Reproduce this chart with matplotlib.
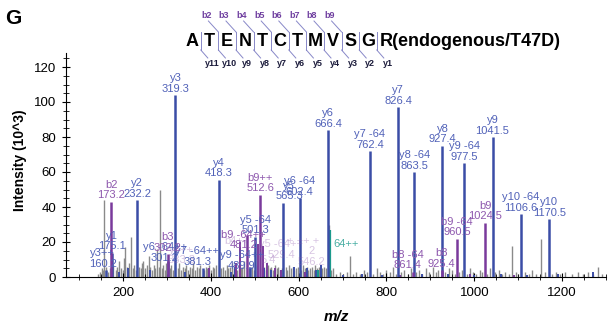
import matplotlib.pyplot as plt
from matplotlib.lines import Line2D
from matplotlib.ticker import MultipleLocator

plt.rcParams['font.family'] = ['Liberation Sans', 'DejaVu Sans']

# y-type fragment ions: m/z, intensity (10^3), name
y_mz = [160.2, 175.1, 232.2, 301.2, 319.3, 381.3, 418.3, 489.9, 501.3, 565.3,
        602.4, 666.4, 762.4, 826.4, 863.5, 927.4, 977.5, 1041.5, 1106.6, 1170.5]
y_int = [4, 14, 44, 9, 104, 5, 55.7, 6, 23, 42.5,
         45, 84, 72, 97, 60, 75, 65, 80, 36, 33]
y_name = ['y3++', 'y1', 'y2', 'y6 -64++', 'y3', 'y7 -64++', 'y4', 'y9 -64++', 'y5 -64', 'y5',
          'y6 -64', 'y6', 'y7 -64', 'y7', 'y8 -64', 'y8', 'y9 -64', 'y9', 'y10 -64', 'y10']

# b-type fragment ions
b_mz = [173.2, 302.2, 481.2, 512.6, 861.4, 925.4, 960.5, 1024.5]
b_int = [43, 13, 24, 47, 3, 4, 22, 31]
b_name = ['b2', 'b3', 'b9 -64++', 'b9++', 'b8 -64', 'b8', 'b9 -64', 'b9']

# small unlabelled matched peaks
blue_mz = [190, 212, 262, 340, 395, 446, 455, 520, 536, 590, 620, 640, 650,
           700, 745, 790, 880, 940, 1000, 1060, 1120, 1190, 1270]
blue_int = [3, 5, 4, 3, 4, 3, 6, 5, 4, 6, 5, 4, 7,
            1, 1.5, 1, 1.5, 2, 1, 2, 1, 1.5, 3]
purple_mz = [396, 458, 466, 508, 519, 528, 545, 560, 615, 830, 990, 1090]
purple_int = [5, 8, 20, 19, 18, 8, 5, 4, 3, 1, 1.5, 1]
teal_mz = [644, 671]
teal_int = [4, 27]

# unmatched peaks
gray_mz = [142, 147, 151, 155, 157, 162, 166, 170, 178, 183, 187, 191, 195, 199, 202, 205,
           209, 213, 218, 222, 226, 229, 236, 240, 243, 246, 250, 254, 258, 262, 266, 270,
           273, 277, 281, 284, 288, 292, 295, 298,
           306, 310, 314, 318, 324, 328, 332, 336, 340, 344, 348, 352, 356, 360, 364, 368,
           372, 376, 384, 388, 392, 396, 400, 404, 408, 412, 424, 428, 432, 436, 440, 444,
           448, 452, 456, 460, 464, 468, 472, 476, 486, 494, 498, 506, 516, 522, 526, 530,
           534, 538, 542, 546, 550, 554, 558, 562, 570, 574, 578, 582, 586, 590, 594, 598,
           606, 610, 614, 618, 622, 626, 630, 634, 638, 642, 646, 650, 654, 658, 662, 668,
           674, 678,
           686, 694, 702, 710, 717, 724, 731, 740, 748, 755, 770, 778, 786, 793, 800, 808,
           815, 822, 832, 840, 848, 856, 868, 875, 882, 890, 897, 905, 912, 918, 934, 942,
           950, 956, 966, 972, 984, 990, 996, 1004, 1012, 1018, 1030, 1036, 1048, 1056, 1063,
           1070, 1078, 1086, 1094, 1100, 1115, 1124, 1132, 1140, 1152, 1160, 1178, 1186, 1196,
           1206, 1222, 1236, 1248, 1258, 1270, 1282, 1292]
gray_int = [2, 3, 5, 4, 44, 6, 3, 5, 7, 4, 6, 9, 5, 4, 11, 17,
            6, 8, 23, 5, 7, 4, 6, 5, 8, 9, 5, 7, 12, 6, 4, 7,
            5, 16, 6, 50, 5, 7, 4, 8,
            5, 7, 4, 6, 5, 8, 4, 6, 5, 7, 4, 6, 5, 8, 4, 6,
            5, 7, 4, 6, 5, 7, 4, 6, 5, 7, 5, 6, 4, 7, 5, 6,
            8, 5, 6, 4, 7, 5, 6, 9, 5, 6, 4, 7, 5, 6, 4, 7,
            5, 6, 4, 7, 5, 6, 4, 5, 6, 4, 7, 5, 6, 4, 5, 6,
            4, 7, 5, 6, 4, 5, 6, 4, 7, 5, 6, 4, 5, 6, 5, 30,
            4, 5,
            2, 3, 2, 3, 12, 2, 3, 2, 4, 3, 2, 5, 3, 2, 4, 3,
            6, 2, 3, 4, 2, 5, 3, 4, 2, 5, 3, 6, 3, 4, 3, 5,
            4, 2, 3, 4, 2, 5, 3, 2, 4, 3, 2, 5, 3, 4, 2,
            3, 2, 18, 3, 2, 3, 2, 4, 2, 22, 3, 2, 3, 2,
            3, 2, 3, 2, 3, 2, 6, 2]

# faint overlapping annotations in the crowded region: text, m/z, intensity
faint_text = ['y6++\n333.3', 'b4++', '5.4', 'y5 -64++\n529.4', '+ ++ +', '2\n546.2']
faint_mz = [333, 460, 530, 560, 610, 630]
faint_int = [6, 17, 6, 9, 17, 5]

BLUE, BLUE_TXT = '#3b4da6', '#5061b8'
PURPLE, PURPLE_TXT = '#7a3a9c', '#8e58ae'
TEAL = '#1b9a8c'
GRAY = '#8a8a8a'

W, H = 608, 326
fig = plt.figure(figsize=(W / 100, H / 100), dpi=100)


def px(x):
    return x / W


def py(y):
    return 1 - y / H


ax = fig.add_axes([px(66), py(277), px(606) - px(66), py(53) - py(277)])

ax.vlines(gray_mz, 0, gray_int, colors=GRAY, lw=1.0, zorder=1)
ax.vlines(blue_mz, 0, blue_int, colors=BLUE, lw=1.4, zorder=2)
ax.vlines(purple_mz, 0, purple_int, colors=PURPLE, lw=1.4, zorder=2)
ax.vlines(teal_mz, 0, teal_int, colors=TEAL, lw=1.6, zorder=2)
ax.vlines(y_mz, 0, y_int, colors=BLUE, lw=1.8, zorder=3)
ax.vlines(b_mz, 0, b_int, colors=PURPLE, lw=1.8, zorder=3)

# label shifts (points) where the original labels are displaced
nudge = {'b9 -64++': (-2, -12), 'y9 -64++': (-6, -4), 'y5': (4, 0), 'b8 -64': (-4, 0),
         'y7 -64++': (-4, 0), 'y6 -64++': (-2, -2), 'y3++': (-2, 0)}


def label_peaks(mzs, ints, names, color):
    for mz, h, name in zip(mzs, ints, names):
        dx, dy = nudge.get(name, (0, 0))
        ax.annotate(f'{name}\n{mz:.1f}', (mz, h), xytext=(dx, 1 + dy),
                    textcoords='offset points', ha='center', va='bottom',
                    fontsize=8, color=color, linespacing=1.05, zorder=5)


label_peaks(y_mz, y_int, y_name, BLUE_TXT)
label_peaks(b_mz, b_int, b_name, PURPLE_TXT)
for t, mz, h in zip(faint_text, faint_mz, faint_int):
    ax.annotate(t, (mz, h), xytext=(0, 1), textcoords='offset points', ha='center',
                va='bottom', fontsize=8, color=PURPLE_TXT, alpha=0.35, linespacing=1.05)
ax.annotate('64++', (671, 27), xytext=(12, -14), textcoords='offset points', ha='center',
            va='bottom', fontsize=8, color=TEAL, alpha=0.8)

ax.set_xlim(70, 1300)
ax.set_ylim(0, 128)
ax.xaxis.set_major_locator(MultipleLocator(200))
ax.xaxis.set_minor_locator(MultipleLocator(50))
ax.yaxis.set_major_locator(MultipleLocator(20))
ax.yaxis.set_minor_locator(MultipleLocator(5))
ax.tick_params(which='major', direction='inout', length=6, width=0.8, labelsize=9.5, pad=4)
ax.tick_params(which='minor', direction='inout', length=4, width=0.6)
for s in ['top', 'right']:
    ax.spines[s].set_visible(False)
ax.set_xlabel('m/z', fontsize=11, fontweight='bold', fontstyle='italic', labelpad=8)

fig.text(px(20), py(160), 'Intensity (10^3)', rotation=90, ha='center', va='center',
         fontsize=10, fontweight='bold')
fig.text(px(13), py(18), 'G', ha='center', va='center', fontsize=15, fontweight='bold')

# peptide sequence with fragment cleavage marks
seq = 'ATENTCTMVSGR'
x0, dx, ys = 192, 17.6, 41
for i, aa in enumerate(seq[:-1]):
    fig.text(px(x0 + i * dx), py(ys), aa, ha='center', va='center', fontsize=13, fontweight='bold')
fig.text(px(x0 + 11 * dx - 6), py(ys), 'R(endogenous/T47D)', ha='left', va='center',
         fontsize=13, fontweight='bold')
line_col = '#8888c8'
for i in range(1, len(seq)):
    sx = x0 + (i - 0.5) * dx
    fig.add_artist(Line2D([px(sx), px(sx)], [py(32), py(50)], color=line_col, lw=0.7))
    fig.add_artist(Line2D([px(sx), px(sx + 7)], [py(50), py(58)], color=line_col, lw=0.7))
    fig.text(px(sx + 11), py(64), f'y{len(seq) - i}', ha='center', va='center',
             fontsize=6.5, fontweight='bold', color='#1c1c3c')
    if 2 <= i <= 9:
        fig.add_artist(Line2D([px(sx - 10), px(sx)], [py(21), py(32)], color=line_col, lw=0.7))
        fig.text(px(sx - 12), py(15), f'b{i}', ha='center', va='center',
                 fontsize=6.5, fontweight='bold', color='#7040a0')

fig.savefig('out.png', dpi=100)
